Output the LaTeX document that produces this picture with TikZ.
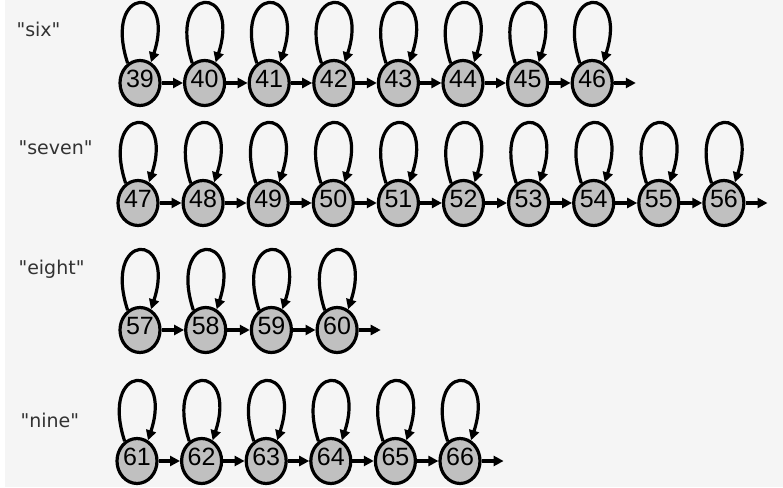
\documentclass[tikz,border=0pt]{standalone}
\usepackage{fontspec}
\setmainfont{Liberation Sans}
\newfontfamily\wordfont{DejaVu Sans}
\usetikzlibrary{shapes.geometric,arrows.meta,positioning}

\definecolor{bgcol}{RGB}{245,245,245}
\definecolor{statefill}{RGB}{192,192,192}
\definecolor{wordcol}{RGB}{50,50,50}

\tikzset{
  state/.style={ellipse, draw, line width=3.2pt, fill=statefill,
    minimum width=40pt, minimum height=45pt, inner sep=0pt, text depth=8pt,
    font=\fontsize{25}{28}\selectfont},
  link/.style={line width=3.2pt, -{Triangle[length=10pt,width=10pt]}},
  word/.style={anchor=base west, text=wordcol, font=\wordfont\fontsize{19}{22}\selectfont}
}

\begin{document}
\begin{tikzpicture}[x=1pt,y=1pt]
  % background
  \fill[bgcol] (0,0) rectangle (783,487);
  \fill[white] (0,0) rectangle (5,487);
  \useasboundingbox (0,0) rectangle (783,487);

  % words
  \node[word] (six) at (13,450) {"six"};
  \node[word] (seven) at (15,332) {"seven"};
  \node[word] (eight) at (15,212) {"eight"};
  \node[word] (nine) at (17,60) {"nine"};

  % states
  \foreach \n [count=\i from 0] in {39,...,46}
    \node[state] (s\n) at (140+64.6*\i,404) {\n};
  \foreach \n [count=\i from 0] in {47,...,56}
    \node[state] (s\n) at (138+65.1*\i,284) {\n};
  \foreach \n [count=\i from 0] in {57,...,60}
    \node[state] (s\n) at (140+65.7*\i,157) {\n};
  \foreach \n [count=\i from 0] in {61,...,66}
    \node[state] (s\n) at (137+64.6*\i,26) {\n};

  % self loops
  \foreach \n in {39,...,66}
    \draw[link] (s\n.122) .. controls +(108:83) and +(72:83) .. (s\n.62);

  % links to the next state
  \foreach \n in {39,40,41,42,43,44,45,47,48,49,50,51,52,53,54,55,57,58,59,61,62,63,64,65} {
    \pgfmathtruncatemacro\m{\n+1}
    \draw[link] (s\n) -- (s\m);
  }

  % open ends
  \foreach \n in {46,56,60,66} {
    \coordinate[right=22pt of s\n] (e\n);
    \draw[link] (s\n) -- (e\n);
  }
\end{tikzpicture}
\end{document}
